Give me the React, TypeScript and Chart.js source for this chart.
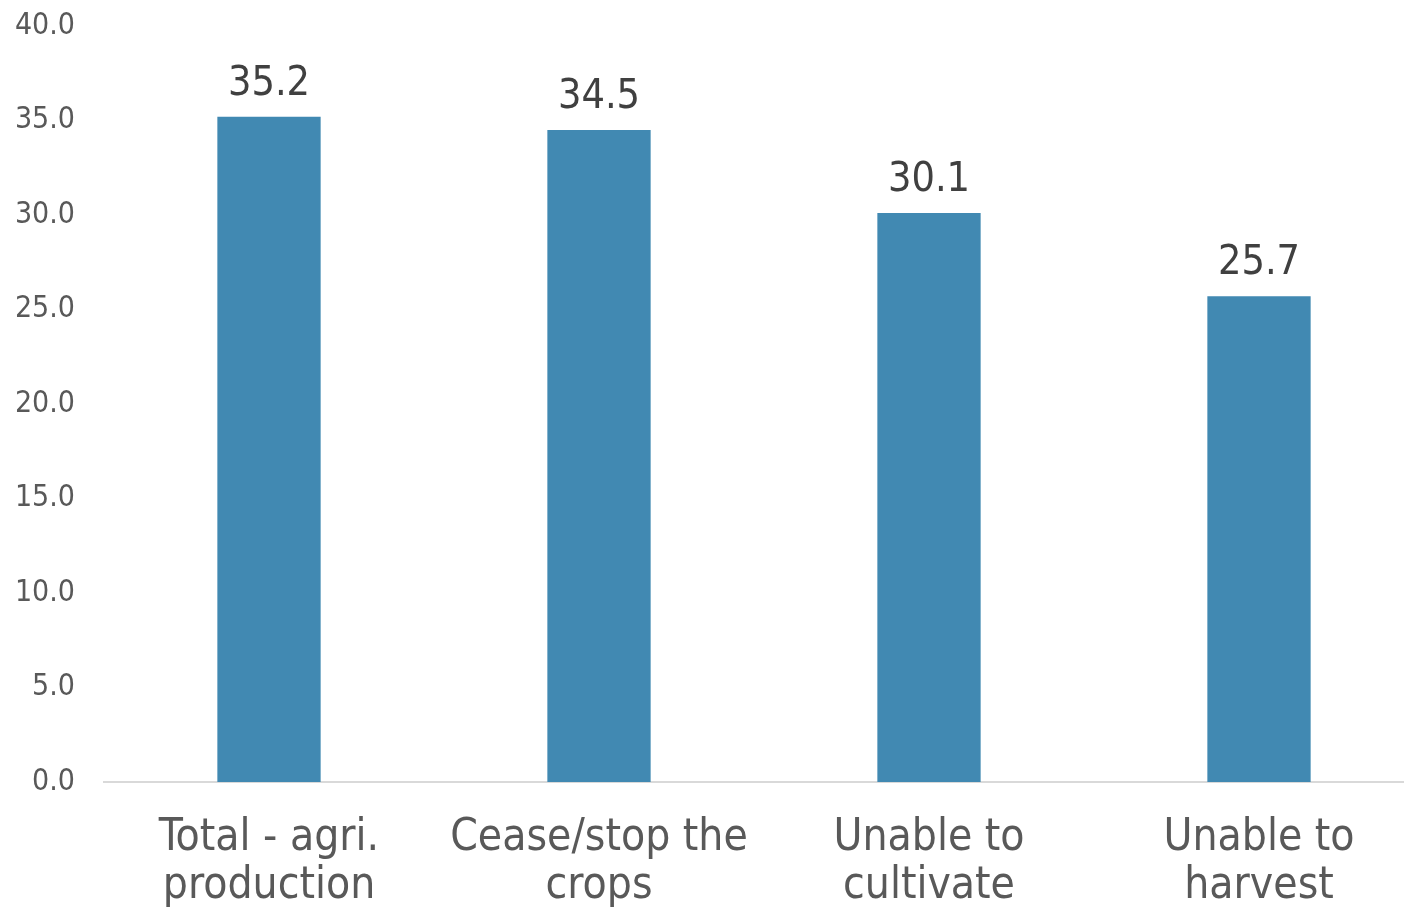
import React, { useEffect, useRef } from "react";
import { Chart, registerables } from "chart.js";

Chart.register(...registerables);

const categories: string[][] = [
  ["Total - agri.", "production"],
  ["Cease/stop the", "crops"],
  ["Unable to", "cultivate"],
  ["Unable to", "harvest"],
];
const values: number[] = [35.2, 34.5, 30.1, 25.7];
const yTicks = { min: 0, max: 40, step: 5 };

const FONT = "'DejaVu Sans Condensed', 'DejaVu Sans', sans-serif";

const valueLabels = {
  id: "valueLabels",
  afterDatasetsDraw(chart: any) {
    const ctx = chart.ctx;
    const meta = chart.getDatasetMeta(0);
    ctx.save();
    ctx.font = `41px ${FONT}`;
    ctx.fillStyle = "#404040";
    ctx.textAlign = "center";
    ctx.textBaseline = "alphabetic";
    meta.data.forEach((bar: any, i: number) => {
      ctx.fillText(values[i].toFixed(1), bar.x, bar.y - 22);
    });
    ctx.restore();
  },
};

export default function App() {
  const ref = useRef<HTMLCanvasElement>(null);
  useEffect(() => {
    document.body.style.margin = "0";
    document.body.style.overflow = "hidden";
    const chart = new Chart(ref.current!, {
      type: "bar",
      data: {
        labels: categories,
        datasets: [
          {
            data: values,
            backgroundColor: "#4189B2",
            categoryPercentage: 1,
            barPercentage: 0.313,
          },
        ],
      },
      options: {
        animation: false,
        responsive: false,
        maintainAspectRatio: false,
        layout: { padding: { top: 2, left: 0, right: 0, bottom: 0 } },
        plugins: { legend: { display: false }, tooltip: { enabled: false } },
        scales: {
          x: {
            grid: { display: false },
            border: { display: true, color: "#D9D9D9", width: 2 },
            afterFit: (scale: any) => {
              scale.height = 125;
            },
            ticks: {
              color: "#595959",
              font: { family: FONT, size: 44, lineHeight: 1.09 },
              padding: 25,
              maxRotation: 0,
              autoSkip: false,
            },
          },
          y: {
            min: yTicks.min,
            max: yTicks.max,
            grid: { display: false, drawTicks: false },
            border: { display: false },
            afterFit: (scale: any) => {
              scale.width = 104;
            },
            ticks: {
              stepSize: yTicks.step,
              color: "#595959",
              font: { family: FONT, size: 30 },
              padding: 29,
              callback: (v: any) => Number(v).toFixed(1),
            },
          },
        },
      },
      plugins: [valueLabels],
    });
    return () => chart.destroy();
  }, []);
  return (
    <div style={{ position: "fixed", left: 0, top: 0, width: 1404, height: 907, overflow: "hidden", background: "#fff" }}>
      <canvas ref={ref} width={1424} height={928} style={{ display: "block", position: "absolute", left: 0, top: -21 }} />
    </div>
  );
}
